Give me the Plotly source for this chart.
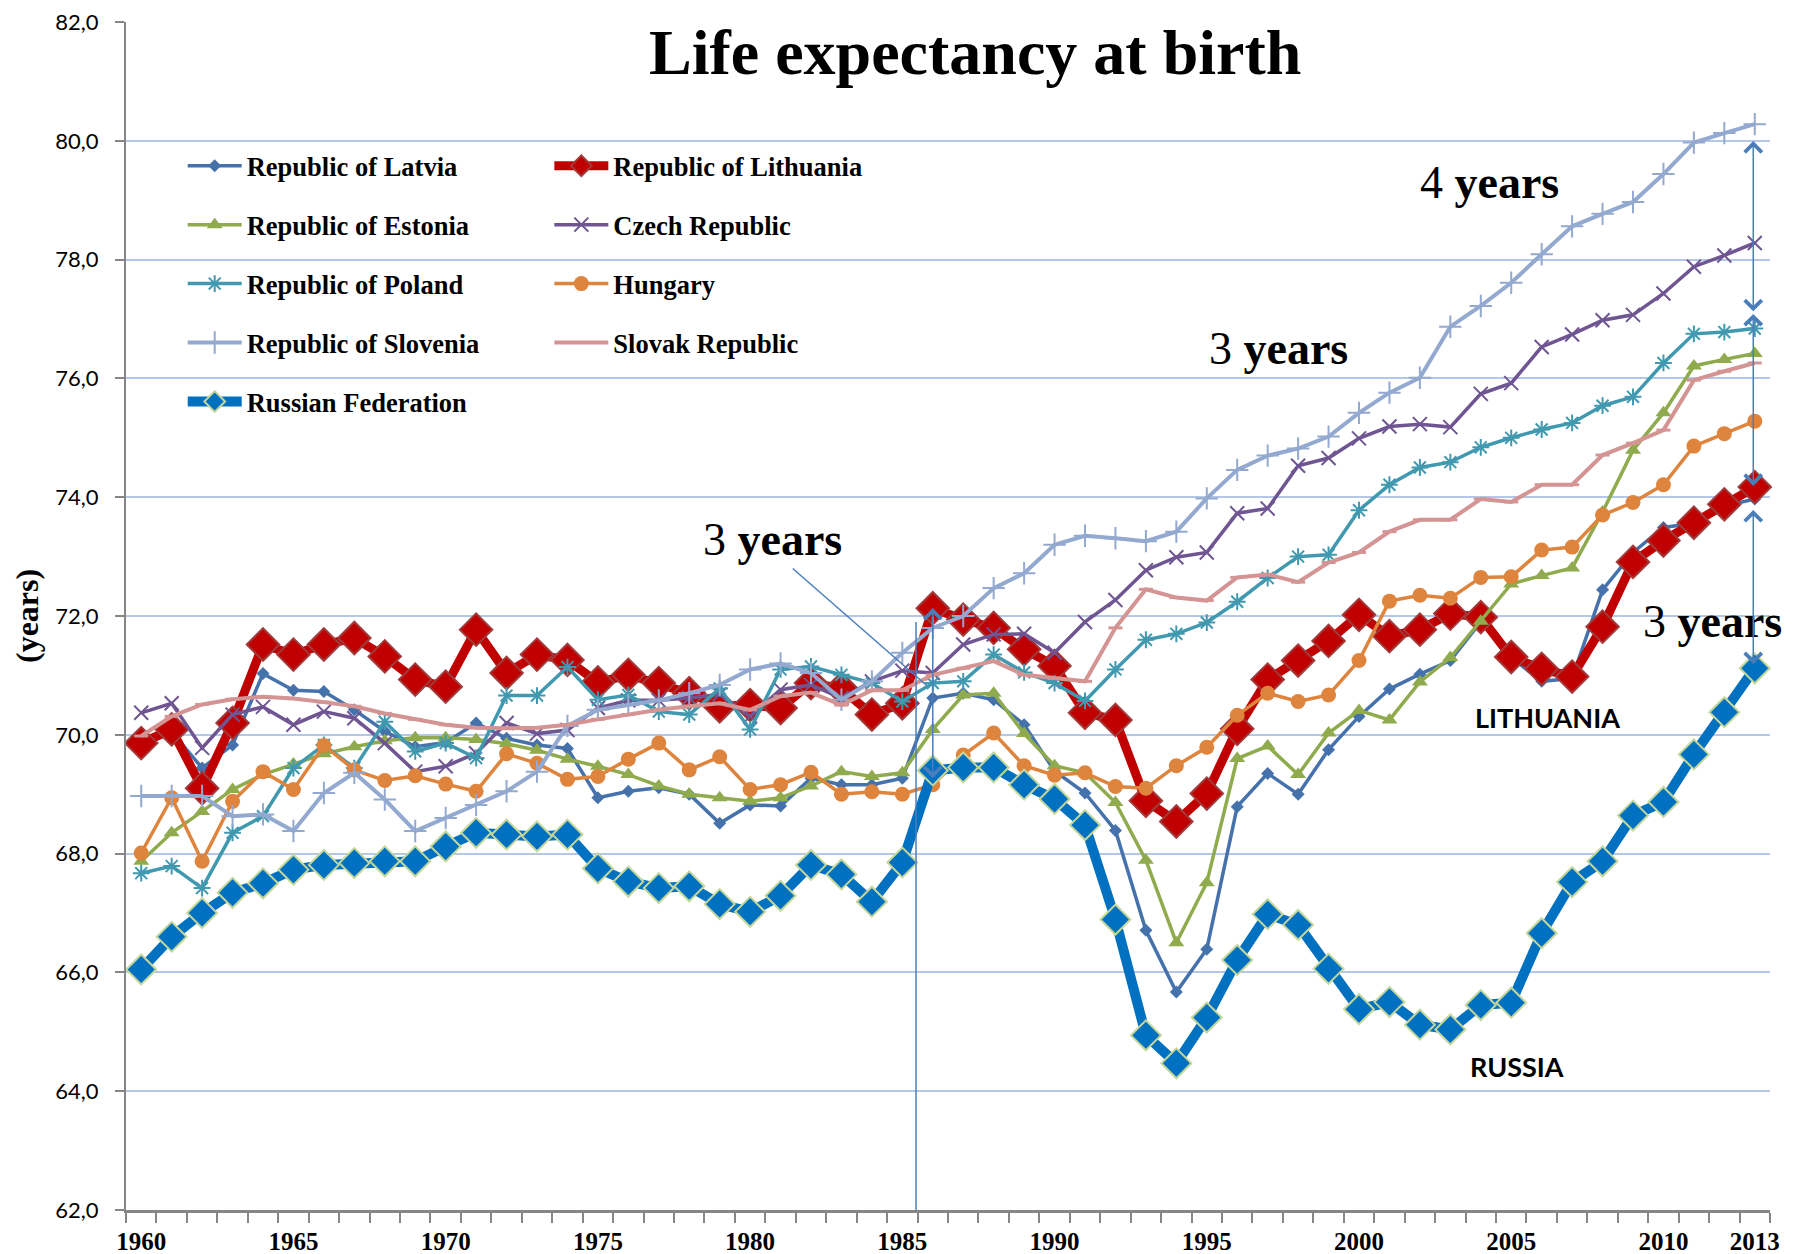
import plotly.graph_objects as go

years = list(range(1960, 2014))

latvia = [69.80, 70.05, 69.44, 69.83, 71.03, 70.75, 70.73, 70.42, 70.06, 69.80,
          69.87, 70.20, 69.94, 69.83, 69.77, 68.94, 69.05, 69.11, 69.00, 68.51,
          68.82, 68.80, 69.27, 69.16, 69.16, 69.27, 70.62, 70.70, 70.59, 70.17,
          69.39, 69.02, 68.39, 66.71, 65.67, 66.39, 68.79, 69.35, 69.00, 69.75,
          70.31, 70.77, 71.02, 71.25, 71.90, 71.30, 70.90, 70.95, 72.44, 73.07,
          73.49, 73.56, 73.85, 73.97]
lithuania = [69.86, 70.09, 69.10, 70.20, 71.52, 71.35, 71.52, 71.63, 71.32, 70.93,
             70.81, 71.77, 71.04, 71.35, 71.26, 70.88, 71.01, 70.87, 70.70, 70.48,
             70.50, 70.45, 70.87, 70.78, 70.34, 70.53, 72.13, 71.94, 71.80, 71.44,
             71.16, 70.37, 70.25, 68.89, 68.54, 69.01, 70.10, 70.93, 71.25, 71.58,
             72.02, 71.66, 71.77, 72.04, 71.98, 71.31, 71.11, 70.98, 71.82, 72.91,
             73.27, 73.57, 73.88, 74.17]
estonia = [67.87, 68.35, 68.71, 69.08, 69.33, 69.51, 69.68, 69.80, 69.90, 69.95,
           69.95, 69.92, 69.85, 69.74, 69.59, 69.47, 69.33, 69.14, 69.00, 68.94,
           68.88, 68.94, 69.14, 69.38, 69.30, 69.36, 70.09, 70.67, 70.70, 70.02,
           69.48, 69.36, 68.86, 67.89, 66.50, 67.51, 69.60, 69.81, 69.33, 70.03,
           70.41, 70.25, 70.89, 71.30, 71.91, 72.54, 72.68, 72.81, 73.75, 74.79,
           75.42, 76.21, 76.32, 76.42]
czech = [70.37, 70.53, 69.78, 70.34, 70.47, 70.17, 70.39, 70.28, 69.86, 69.38,
         69.47, 69.69, 70.20, 70.02, 70.08, 70.45, 70.58, 70.58, 70.62, 70.68,
         70.31, 70.76, 70.84, 70.62, 70.90, 71.08, 71.04, 71.52, 71.69, 71.70,
         71.38, 71.90, 72.27, 72.77, 72.99, 73.07, 73.73, 73.81, 74.53, 74.66,
         74.99, 75.19, 75.23, 75.18, 75.74, 75.92, 76.53, 76.74, 76.98, 77.07,
         77.43, 77.88, 78.07, 78.28]
poland = [67.67, 67.79, 67.42, 68.35, 68.63, 69.44, 69.83, 69.44, 70.22, 69.72,
          69.86, 69.61, 70.66, 70.66, 71.14, 70.59, 70.67, 70.39, 70.34, 70.78,
          70.09, 71.10, 71.15, 71.01, 70.87, 70.56, 70.87, 70.90, 71.35, 71.05,
          70.87, 70.57, 71.10, 71.60, 71.70, 71.89, 72.24, 72.64, 73.00, 73.03,
          73.78, 74.21, 74.50, 74.59, 74.84, 75.00, 75.14, 75.25, 75.54, 75.69,
          76.26, 76.75, 76.78, 76.84]
hungary = [68.01, 68.94, 67.87, 68.88, 69.38, 69.08, 69.82, 69.41, 69.23, 69.31,
           69.17, 69.05, 69.68, 69.52, 69.25, 69.30, 69.59, 69.86, 69.41, 69.63,
           69.08, 69.16, 69.37, 69.00, 69.04, 69.00, 69.16, 69.66, 70.03, 69.48,
           69.32, 69.36, 69.13, 69.10, 69.48, 69.79, 70.33, 70.70, 70.56, 70.67,
           71.25, 72.25, 72.35, 72.30, 72.65, 72.66, 73.11, 73.16, 73.70, 73.91,
           74.21, 74.86, 75.07, 75.28]
slovenia = [68.97, 68.97, 68.97, 68.63, 68.66, 68.38, 69.02, 69.36, 68.91, 68.38,
            68.60, 68.82, 69.05, 69.38, 70.15, 70.42, 70.50, 70.58, 70.70, 70.84,
            71.10, 71.20, 71.04, 70.59, 70.90, 71.38, 71.80, 72.00, 72.47, 72.72,
            73.20, 73.35, 73.31, 73.26, 73.42, 73.98, 74.46, 74.70, 74.82, 75.02,
            75.42, 75.76, 76.01, 76.87, 77.22, 77.61, 78.09, 78.56, 78.77, 78.97,
            79.44, 79.97, 80.13, 80.28]
slovakia = [69.98, 70.31, 70.51, 70.60, 70.64, 70.61, 70.55, 70.48, 70.36, 70.26,
            70.17, 70.12, 70.11, 70.12, 70.17, 70.26, 70.34, 70.42, 70.48, 70.53,
            70.42, 70.65, 70.71, 70.50, 70.75, 70.75, 71.01, 71.12, 71.24, 71.01,
            70.95, 70.90, 71.80, 72.45, 72.31, 72.26, 72.65, 72.70, 72.57, 72.90,
            73.07, 73.42, 73.62, 73.62, 73.97, 73.92, 74.21, 74.21, 74.71, 74.91,
            75.13, 75.97, 76.12, 76.26]
russia = [66.05, 66.60, 67.00, 67.34, 67.50, 67.73, 67.81, 67.84, 67.87, 67.87,
          68.12, 68.35, 68.32, 68.29, 68.32, 67.75, 67.53, 67.42, 67.45, 67.15,
          67.02, 67.29, 67.81, 67.65, 67.19, 67.85, 69.40, 69.45, 69.45, 69.16,
          68.92, 68.48, 66.89, 64.94, 64.47, 65.24, 66.21, 66.98, 66.80, 66.06,
          65.38, 65.50, 65.12, 65.04, 65.45, 65.49, 66.66, 67.52, 67.87, 68.64,
          68.87, 69.67, 70.38, 71.12]

tick_years = [1960, 1965, 1970, 1975, 1980, 1985, 1990, 1995, 2000, 2005, 2010, 2013]
tick_labels = [str(y) for y in tick_years]

SERIF = "Liberation Serif, Times New Roman, serif"
SANS = "Lato, Calibri, sans-serif"

fig = go.Figure()


def add(name, vals, color, lw, marker, legend):
    fig.add_trace(go.Scatter(
        x=years, y=vals, name=name, mode="lines+markers",
        line=dict(color=color, width=lw),
        marker=marker, legend=legend, legendgroup=name,
        cliponaxis=False,
    ))


add("Republic of Latvia", latvia, "#4672AC", 3.5,
    dict(symbol="diamond", size=10, color="#4672AC"), "legend")
add("Republic of Lithuania", lithuania, "#C00000", 9,
    dict(symbol="diamond", size=25, color="#C00000",
         line=dict(color="#A13B3B", width=2)), "legend2")
add("Republic of Estonia", estonia, "#8FAB4D", 3.5,
    dict(symbol="triangle-up", size=14, color="#8FAB4D"), "legend")
add("Czech Republic", czech, "#6F5592", 3.5,
    dict(symbol="x-thin-open", size=14, color="#6F5592",
         line=dict(color="#6F5592", width=2)), "legend2")
add("Republic of Poland", poland, "#4199B0", 3.5,
    dict(symbol="asterisk-open", size=14, color="#4199B0",
         line=dict(color="#4199B0", width=2)), "legend")
add("Hungary", hungary, "#DE843D", 3.5,
    dict(symbol="circle", size=15, color="#DE843D"), "legend2")
add("Republic of Slovenia", slovenia, "#93A9D0", 4,
    dict(symbol="cross-thin-open", size=16, color="#93A9D0",
         line=dict(color="#93A9D0", width=2)), "legend")
add("Slovak Republic", slovakia, "#D39493", 4,
    dict(symbol="line-ew-open", size=10, color="#D39493",
         line=dict(color="#D39493", width=3)), "legend2")
add("Russian Federation", russia, "#0070C0", 10,
    dict(symbol="diamond", size=23, color="#0070C0",
         line=dict(color="#C3D69B", width=2)), "legend")

ARROW = "#4A7EBB"
annotations = [
    dict(text="Life expectancy at birth", xref="paper", yref="paper",
         x=0.5164, y=0.9745, showarrow=False, xanchor="center", yanchor="middle",
         font=dict(family=SERIF, size=64, color="black", weight="bold")),
    dict(text="(years)", xref="paper", yref="paper", x=-0.0602, y=0.50,
         showarrow=False, textangle=-90, xanchor="center", yanchor="middle",
         borderpad=0,
         font=dict(family=SERIF, size=32, color="black", weight="bold")),
]
for tx, ty, txt in [(1980.75, 73.29, "3"), (2004.3, 79.29, "4"),
                    (1997.35, 76.5, "3"), (2011.6, 71.9, "3")]:
    annotations.append(dict(
        text=txt + " <b>years</b>", x=tx, y=ty, xref="x", yref="y",
        showarrow=False, xanchor="center", yanchor="middle",
        font=dict(family=SERIF, size=46, color="black")))
annotations.append(dict(text="LITHUANIA", x=2006.18, y=70.29, xref="x", yref="y",
                        showarrow=False,
                        font=dict(family=SANS, size=27, color="black", weight="bold")))
annotations.append(dict(text="RUSSIA", x=2005.2, y=64.42, xref="x", yref="y",
                        showarrow=False,
                        font=dict(family=SANS, size=27, color="black", weight="bold")))

for xa, y_top, y_bot in [(1986.0, 72.16, 69.27), (2012.95, 80.02, 77.13),
                          (2012.95, 77.11, 74.19), (2012.95, 73.81, 71.19)]:
    annotations.append(dict(
        text="", x=xa, y=y_bot, ax=xa, ay=y_top, xref="x", yref="y",
        axref="x", ayref="y", showarrow=True, arrowside="end+start",
        arrowhead=4, startarrowhead=4, arrowsize=2.2, startarrowsize=2.2,
        arrowwidth=1.5, arrowcolor=ARROW, standoff=0, startstandoff=0))

shapes = [
    dict(type="line", xref="x", yref="y", x0=1981.4, y0=72.8, x1=1985.8, y1=70.83,
         line=dict(color=ARROW, width=1.5), layer="above"),
    dict(type="line", xref="x", yref="y", x0=1985.45, y0=71.9, x1=1985.45, y1=61.85,
         line=dict(color=ARROW, width=1.5), layer="above"),
]

legend_common = dict(
    orientation="v", xanchor="left", yanchor="top", bgcolor="rgba(0,0,0,0)",
    font=dict(family=SERIF, size=26.5, color="black", weight="bold"),
    traceorder="grouped", tracegroupgap=21.5, itemwidth=54,
)

fig.update_layout(
    width=1793, height=1254,
    # page body adds an 8px offset; margins compensate so the plot area
    # lands where the reference has it
    margin=dict(l=118, r=31, t=14, b=52, autoexpand=False),
    paper_bgcolor="white", plot_bgcolor="white",
    separators=", ",
    showlegend=True,
    legend=dict(x=0.0345, y=0.899, **legend_common),
    legend2=dict(x=0.2575, y=0.899, **legend_common),
    annotations=annotations,
    shapes=shapes,
    xaxis=dict(
        range=[1959.5, 2013.5], tickmode="array", tickvals=tick_years,
        ticktext=tick_labels, ticks="outside", ticklen=7,
        tickcolor="rgba(0,0,0,0)", automargin=False,
        tickfont=dict(family=SERIF, size=25, color="black", weight="bold"),
        showgrid=False, zeroline=False, showline=True,
        linecolor="#868686", linewidth=3, ticklabeloverflow="allow",
        minor=dict(ticks="outside", tickmode="linear", tick0=1959.5, dtick=1,
                   ticklen=10, tickwidth=1.5, tickcolor="#868686", showgrid=False),
    ),
    yaxis=dict(
        range=[62, 82], tickmode="linear", tick0=62, dtick=2, tickformat=".1f",
        ticks="outside", ticklen=9, tickwidth=1.5, tickcolor="#868686",
        showline=True, linecolor="#868686", linewidth=2, automargin=False,
        gridcolor="#B4C7E7", gridwidth=2, zeroline=False,
        tickfont=dict(family=SANS, size=22, color="black"),
        ticklabelstandoff=12, ticklabeloverflow="allow",
    ),
)

fig.write_html("out.html")
